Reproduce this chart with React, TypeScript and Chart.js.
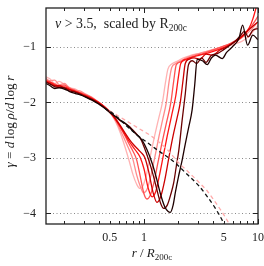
import React, { useEffect, useRef } from "react";
import { Chart, registerables } from "chart.js";
Chart.register(...registerables);

const X_MIN = 0.138;
const X_MAX = 10;
const Y_MIN = -4.19;
const Y_MAX = -0.3;
const xTickLabels = [0.5, 1, 5, 10];
const xMajorTicks = [1, 10];
const xMinorTicks = [0.2, 0.3, 0.4, 0.5, 0.6, 0.7, 0.8, 0.9, 2, 3, 4, 5, 6, 7, 8, 9];
const yTickValues = [-4, -3, -2, -1];

const r1 = [0.138,0.15,0.165,0.18,0.2,0.22,0.25,0.28,0.31,0.35,0.4,0.45,0.5,0.56,0.62,0.68,0.74,0.8,0.86,0.92,0.98,1.05,1.14,1.24,1.34,1.45,1.54,1.62,1.75,1.95,2.2,2.5,3.0,3.6,4.3,5.2,6.2,7.2,8.2,9.1,10];
const g1 = [-1.54,-1.58,-1.66,-1.62,-1.68,-1.74,-1.76,-1.83,-1.85,-1.92,-2.0,-2.08,-2.18,-2.34,-2.55,-2.8,-3.05,-3.3,-3.47,-3.55,-3.5,-3.3,-2.95,-2.6,-2.3,-2.0,-1.65,-1.4,-1.31,-1.26,-1.2,-1.16,-1.12,-1.08,-1.05,-1.0,-0.95,-0.9,-0.82,-0.72,-0.62];

const r2 = [0.138,0.15,0.165,0.18,0.2,0.22,0.25,0.28,0.31,0.35,0.4,0.45,0.5,0.56,0.62,0.68,0.74,0.8,0.86,0.93,0.99,1.06,1.14,1.24,1.35,1.46,1.57,1.66,1.75,1.9,2.1,2.4,2.8,3.3,4.0,4.8,5.8,6.8,7.8,8.8,10];
const g2 = [-1.57,-1.61,-1.6,-1.68,-1.66,-1.73,-1.78,-1.8,-1.86,-1.91,-2.0,-2.09,-2.18,-2.32,-2.5,-2.68,-2.85,-3.03,-3.3,-3.52,-3.63,-3.57,-3.35,-3.0,-2.62,-2.3,-2.0,-1.62,-1.37,-1.3,-1.25,-1.19,-1.14,-1.1,-1.05,-1.0,-0.94,-0.87,-0.78,-0.68,-0.55];

const r3 = [0.138,0.15,0.165,0.18,0.2,0.22,0.25,0.28,0.31,0.35,0.4,0.45,0.5,0.56,0.62,0.68,0.74,0.8,0.86,0.93,1.0,1.06,1.13,1.22,1.32,1.43,1.56,1.72,1.82,1.92,2.1,2.4,2.8,3.3,4.0,4.8,5.8,6.8,7.8,8.8,10];
const g3 = [-1.6,-1.63,-1.67,-1.7,-1.69,-1.74,-1.79,-1.83,-1.87,-1.92,-2.0,-2.08,-2.17,-2.3,-2.45,-2.6,-2.75,-2.88,-3.03,-3.35,-3.65,-3.74,-3.68,-3.45,-3.1,-2.75,-2.4,-2.0,-1.62,-1.32,-1.27,-1.22,-1.16,-1.12,-1.06,-1.0,-0.93,-0.85,-0.75,-0.62,-0.45];

const r4 = [0.138,0.15,0.165,0.18,0.2,0.22,0.25,0.28,0.31,0.35,0.4,0.45,0.5,0.56,0.62,0.68,0.74,0.8,0.87,0.93,1.0,1.09,1.18,1.27,1.37,1.48,1.6,1.74,1.9,2.0,2.1,2.35,2.7,3.2,3.8,4.5,5.4,6.4,7.4,8.4,9.0,9.6,10];
const g4 = [-1.62,-1.64,-1.69,-1.72,-1.72,-1.76,-1.8,-1.84,-1.88,-1.93,-2.0,-2.08,-2.17,-2.3,-2.44,-2.58,-2.7,-2.8,-2.9,-3.0,-3.2,-3.55,-3.7,-3.6,-3.3,-2.95,-2.6,-2.25,-1.88,-1.55,-1.3,-1.22,-1.18,-1.14,-1.1,-1.05,-0.98,-0.9,-0.8,-0.65,-0.5,-0.3,-0.15];

const r5 = [0.138,0.15,0.165,0.18,0.2,0.22,0.25,0.28,0.31,0.35,0.4,0.45,0.5,0.56,0.62,0.68,0.74,0.8,0.87,0.94,1.02,1.1,1.2,1.3,1.4,1.52,1.65,1.8,1.95,2.08,2.2,2.3,2.5,2.75,3.1,3.5,4.0,4.6,5.3,6.0,7.0,8.0,9.0,10];
const g5 = [-1.63,-1.66,-1.7,-1.7,-1.74,-1.77,-1.81,-1.85,-1.89,-1.94,-2.01,-2.09,-2.17,-2.29,-2.42,-2.55,-2.66,-2.75,-2.83,-2.9,-3.0,-3.25,-3.62,-3.8,-3.7,-3.4,-3.0,-2.6,-2.28,-2.0,-1.6,-1.3,-1.22,-1.2,-1.22,-1.13,-1.15,-1.06,-1.0,-0.93,-0.83,-0.72,-0.63,-0.55];

const r6 = [0.138,0.15,0.165,0.18,0.2,0.22,0.25,0.28,0.31,0.35,0.4,0.45,0.5,0.56,0.62,0.68,0.73,0.8,0.87,0.93,1.0,1.1,1.2,1.3,1.4,1.49,1.6,1.72,1.82,1.92,2.02,2.16,2.3,2.45,2.65,2.9,3.2,3.5,3.9,4.4,5.0,5.6,6.3,7.0,7.6,8.2,9.0,10];
const g6 = [-1.64,-1.67,-1.72,-1.73,-1.74,-1.79,-1.82,-1.86,-1.9,-1.95,-2.02,-2.1,-2.17,-2.26,-2.33,-2.38,-2.42,-2.5,-2.58,-2.65,-2.8,-3.04,-3.3,-3.58,-3.82,-3.91,-3.85,-3.65,-3.45,-3.15,-2.86,-2.32,-1.85,-1.33,-1.25,-1.3,-1.2,-1.28,-1.15,-1.12,-1.05,-0.98,-0.9,-0.8,-0.72,-0.82,-0.7,-0.67];

const r7 = [0.138,0.15,0.165,0.18,0.2,0.22,0.25,0.28,0.31,0.35,0.4,0.45,0.5,0.56,0.62,0.68,0.76,0.86,0.96,1.06,1.18,1.28,1.39,1.52,1.62,1.7,1.8,1.88,2.0,2.16,2.3,2.47,2.64,2.78,2.93,3.25,3.59,3.9,4.24,4.86,5.3,5.95,6.8,7.33,8.1,9.0,10];
const g7 = [-1.66,-1.7,-1.75,-1.74,-1.76,-1.8,-1.84,-1.87,-1.91,-1.96,-2.03,-2.1,-2.18,-2.25,-2.32,-2.37,-2.47,-2.58,-2.68,-2.85,-3.1,-3.35,-3.64,-3.88,-3.96,-3.98,-3.85,-3.63,-3.35,-3.04,-2.75,-2.44,-2.14,-1.7,-1.22,-1.25,-1.32,-1.2,-1.15,-1.21,-1.1,-1.0,-0.85,-0.61,-0.97,-0.79,-0.87];

const rFitDark = [0.45,0.55,0.7,0.85,1.0,1.2,1.4,1.65,1.9,2.4,3.05,3.6,4.2,4.9,5.2];
const gFitDark = [-2.1,-2.22,-2.42,-2.57,-2.68,-2.8,-2.9,-3.0,-3.1,-3.3,-3.51,-3.7,-3.9,-4.14,-4.26];
const rFitLight = [0.5,0.6,0.75,0.9,1.05,1.2,1.4,1.65,2.0,2.5,3.0,3.6,4.3,5.0,5.7,6.0];
const gFitLight = [-2.15,-2.25,-2.37,-2.47,-2.55,-2.63,-2.74,-2.88,-3.08,-3.27,-3.43,-3.6,-3.82,-4.02,-4.22,-4.3];

const curveR = [r1, r2, r3, r4, r5, r6, r7];
const curveG = [g1, g2, g3, g4, g5, g6, g7];
const curveColors = ["#ffb3b3", "#ff8c8c", "#ff5252", "#ff1414", "#cc0000", "#6a0000", "#1e0000"];

const FONT = "'Liberation Serif', 'DejaVu Serif', serif";

type Part = { t: string; i?: boolean; s: number; dy?: number };

// draws mixed-style text; if fitWidth is given, the run is stretched horizontally to that width
function drawRich(
  ctx: CanvasRenderingContext2D,
  parts: Part[],
  x: number,
  y: number,
  align: "left" | "center",
  fitWidth?: number
) {
  const widths = parts.map((p) => {
    ctx.font = `${p.i ? "italic " : ""}${p.s}px ${FONT}`;
    return ctx.measureText(p.t).width;
  });
  const total = widths.reduce((a, b) => a + b, 0);
  const k = fitWidth ? fitWidth / total : 1;
  ctx.save();
  ctx.translate(x, y);
  ctx.scale(k, 1);
  let cx = align === "center" ? -total / 2 : 0;
  ctx.textAlign = "left";
  ctx.textBaseline = "alphabetic";
  parts.forEach((p, j) => {
    ctx.font = `${p.i ? "italic " : ""}${p.s}px ${FONT}`;
    ctx.fillText(p.t, cx, p.dy || 0);
    cx += widths[j];
  });
  ctx.restore();
}

const framePlugin = {
  id: "frame",
  beforeDatasetsDraw(chart: any) {
    const { ctx, chartArea: a, scales } = chart;
    const y = scales.y;
    ctx.save();
    ctx.strokeStyle = "#8a8a8a";
    ctx.lineWidth = 1;
    ctx.setLineDash([1, 2.5]);
    yTickValues.forEach((v) => {
      const py = Math.round(y.getPixelForValue(v)) + 0.5;
      ctx.beginPath();
      ctx.moveTo(a.left, py);
      ctx.lineTo(a.right, py);
      ctx.stroke();
    });
    ctx.restore();
  },
  afterDatasetsDraw(chart: any) {
    const { ctx, chartArea: a, scales } = chart;
    const x = scales.x;
    const y = scales.y;
    ctx.save();
    ctx.strokeStyle = "#222";
    ctx.lineWidth = 1.3;
    ctx.strokeRect(a.left, a.top, a.right - a.left, a.bottom - a.top);
    ctx.lineWidth = 1;
    ctx.beginPath();
    yTickValues.forEach((v) => {
      const py = Math.round(y.getPixelForValue(v)) + 0.5;
      ctx.moveTo(a.left, py);
      ctx.lineTo(a.left + 5, py);
      ctx.moveTo(a.right, py);
      ctx.lineTo(a.right - 5, py);
    });
    xMinorTicks.forEach((v) => {
      const px = Math.round(x.getPixelForValue(v)) + 0.5;
      ctx.moveTo(px, a.bottom);
      ctx.lineTo(px, a.bottom - 3);
      ctx.moveTo(px, a.top);
      ctx.lineTo(px, a.top + 3);
    });
    xMajorTicks.forEach((v) => {
      const px = Math.round(x.getPixelForValue(v)) + 0.5;
      ctx.moveTo(px, a.bottom);
      ctx.lineTo(px, a.bottom - 5);
      ctx.moveTo(px, a.top);
      ctx.lineTo(px, a.top + 5);
    });
    ctx.stroke();

    ctx.fillStyle = "#222";
    drawRich(
      ctx,
      [
        { t: "\u03bd", i: true, s: 14 },
        { t: " > 3.5,  scaled by R", s: 14 },
        { t: "200c", s: 9.5, dy: 3 },
      ],
      a.left + 9,
      a.top + 20,
      "left",
      132
    );

    drawRich(
      ctx,
      [
        { t: "r", i: true, s: 13 },
        { t: " / ", s: 13 },
        { t: "R", i: true, s: 13 },
        { t: "200c", s: 9, dy: 3 },
      ],
      (a.left + a.right) / 2,
      257,
      "center"
    );

    ctx.translate(14, 121.5);
    ctx.rotate(-Math.PI / 2);
    drawRich(
      ctx,
      [
        { t: "\u03b3", i: true, s: 12.5 },
        { t: " = ", s: 12.5 },
        { t: "d", i: true, s: 12.5 },
        { t: "\u2009log\u2009", s: 12.5 },
        { t: "\u03c1", i: true, s: 12.5 },
        { t: "/", s: 12.5 },
        { t: "d", i: true, s: 12.5 },
        { t: "\u2009log\u2009", s: 12.5 },
        { t: "r", i: true, s: 12.5 },
      ],
      0,
      0,
      "center",
      92
    );
    ctx.restore();
  },
};

export default function App() {
  const ref = useRef<HTMLCanvasElement | null>(null);
  useEffect(() => {
    document.body.style.margin = "0";
    const canvas = ref.current;
    if (!canvas) return;
    const solid = curveR.map((rs, k) => ({
      data: rs.map((r, j) => ({ x: r, y: curveG[k][j] })),
      borderColor: curveColors[k],
      borderWidth: 1.3,
      pointRadius: 0,
      fill: false,
      cubicInterpolationMode: "monotone" as const,
      order: 10 - k,
    }));
    const dashed = [
      {
        data: rFitLight.map((r, j) => ({ x: r, y: gFitLight[j] })),
        borderColor: "#ffaaaa",
        borderWidth: 1.3,
        borderDash: [4, 3],
        pointRadius: 0,
        fill: false,
        cubicInterpolationMode: "monotone" as const,
        order: 1,
      },
      {
        data: rFitDark.map((r, j) => ({ x: r, y: gFitDark[j] })),
        borderColor: "#111111",
        borderWidth: 1.3,
        borderDash: [4, 3],
        pointRadius: 0,
        fill: false,
        cubicInterpolationMode: "monotone" as const,
        order: 0,
      },
    ];
    const chart = new Chart(canvas, {
      type: "line",
      data: { datasets: [...solid, ...dashed] as any },
      plugins: [framePlugin as any],
      options: {
        animation: false,
        responsive: false,
        events: [],
        layout: { padding: { top: 8, right: 6, left: 0, bottom: 0 } },
        plugins: { legend: { display: false }, tooltip: { enabled: false } },
        scales: {
          x: {
            type: "logarithmic",
            min: X_MIN,
            max: X_MAX,
            grid: { display: false, drawTicks: false },
            border: { display: false },
            afterBuildTicks: (s: any) => {
              s.ticks = xTickLabels.map((v) => ({ value: v }));
            },
            afterFit: (s: any) => {
              s.height = 42;
              s.paddingLeft = 0;
              s.paddingRight = 0;
            },
            ticks: {
              autoSkip: false,
              maxRotation: 0,
              padding: 7,
              color: "#222",
              font: { family: FONT, size: 12 },
              callback: (v: any) => String(v),
            },
          },
          y: {
            type: "linear",
            min: Y_MIN,
            max: Y_MAX,
            grid: { display: false, drawTicks: false },
            border: { display: false },
            afterBuildTicks: (s: any) => {
              s.ticks = yTickValues.map((v) => ({ value: v }));
            },
            afterFit: (s: any) => {
              s.width = 46;
              s.paddingTop = 0;
              s.paddingBottom = 0;
            },
            ticks: {
              padding: 10,
              color: "#222",
              font: { family: FONT, size: 12 },
              callback: (v: any) => String(v).replace("-", "\u2212"),
            },
          },
        },
      },
    });
    return () => chart.destroy();
  }, []);
  return (
    <div style={{ width: 264, height: 266 }}>
      <canvas ref={ref} width={264} height={266} style={{ display: "block" }} />
    </div>
  );
}
